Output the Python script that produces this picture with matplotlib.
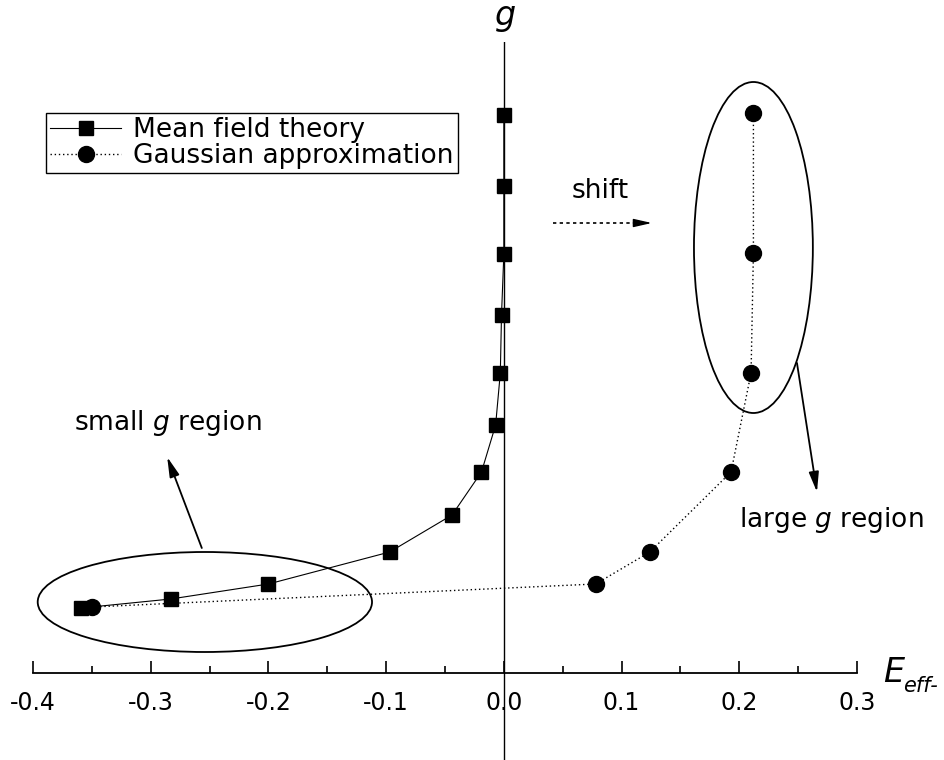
import numpy as np
import matplotlib
matplotlib.use("Agg")
import matplotlib.pyplot as plt
from matplotlib.patches import Ellipse
from matplotlib.ticker import MultipleLocator

plt.rcParams['font.family'] = ['DejaVu Sans']
plt.rcParams['axes.unicode_minus'] = False

# mean field theory (E_eff-, g)  -- g in arbitrary units, no scale shown
mft_x = [0.0, 0.0, 0.0, -0.002, -0.003, -0.007, -0.019, -0.044, -0.097, -0.200, -0.283, -0.359]
mft_g = [5.58, 4.87, 4.19, 3.58, 3.00, 2.48, 2.01, 1.58, 1.21, 0.89, 0.74, 0.65]

# gaussian approximation
ga_x = [-0.350, 0.078, 0.124, 0.193, 0.210, 0.212, 0.212]
ga_g = [0.66, 0.89, 1.21, 2.01, 3.00, 4.20, 5.60]

xticks = [-0.4, -0.3, -0.2, -0.1, 0.0, 0.1, 0.2, 0.3]
xticklabels = ['-0.4', '-0.3', '-0.2', '-0.1', '0.0', '0.1', '0.2', '0.3']

fig = plt.figure(figsize=(9.45, 7.6), dpi=100)
ax = fig.add_axes([33/945, 0, 824/945, 718/760])
ax.set_xlim(-0.4, 0.3)
ax.set_ylim(-0.87, 6.31)

for s in ['top', 'right', 'left']:
    ax.spines[s].set_visible(False)
ax.spines['bottom'].set_position(('data', 0))
ax.spines['bottom'].set_linewidth(1.3)
ax.set_yticks([])
ax.set_xticks(xticks)
ax.set_xticklabels(xticklabels)
ax.xaxis.set_minor_locator(MultipleLocator(0.05))
ax.tick_params(axis='x', which='major', direction='in', length=9, width=1.2, pad=13, labelsize=17)
ax.tick_params(axis='x', which='minor', direction='in', length=5, width=1.2)

# vertical g axis
ax.axvline(0, color='k', lw=1.0, zorder=3)

ax.plot(mft_x, mft_g, '-s', color='k', lw=0.8, ms=10, zorder=5, label='Mean field theory')
ax.plot(ga_x, ga_g, 'o', color='k', ls=(0, (1, 2)), lw=1.0, ms=11.5, zorder=5,
        label='Gaussian approximation')

# regions
ax.add_patch(Ellipse((0.212, 4.255), 0.101, 3.31, fill=False, ec='k', lw=1.3))
ax.add_patch(Ellipse((-0.254, 0.71), 0.284, 1.0, fill=False, ec='k', lw=1.3))

arr = dict(arrowstyle='-|>,head_length=1.2,head_width=0.3', color='k', lw=1.3,
           shrinkA=0, shrinkB=0)
ax.annotate('', xy=(-0.286, 2.16), xytext=(-0.2566, 1.25), arrowprops=arr)
ax.annotate('', xy=(0.266, 1.81), xytext=(0.249, 3.10), arrowprops=arr)
# dotted "shift" arrow: dashed shaft + solid head
ax.plot([0.0416, 0.113], [4.50, 4.50], color='k', lw=1.2, ls=(0, (2, 2)))
ax.annotate('', xy=(0.1257, 4.50), xytext=(0.110, 4.50),
            arrowprops=dict(arrowstyle='-|>,head_length=1.1,head_width=0.25', color='k',
                            lw=1.0, shrinkA=0, shrinkB=0))

ax.text(-0.2855, 2.50, 'small $g$ region', ha='center', va='center', fontsize=19)
ax.text(0.278, 1.53, 'large $g$ region', ha='center', va='center', fontsize=19)
ax.text(0.0816, 4.82, 'shift', ha='center', va='center', fontsize=19)

fig.text(505/945, 1 - 18/760, '$g$', ha='center', va='center', fontsize=24)
fig.text(883/945, 1 - 682/760, 'E', style='italic', ha='left', va='baseline', fontsize=24)
fig.text(903/945, 1 - 692/760, 'eff-', style='italic', ha='left', va='baseline', fontsize=15)

leg = ax.legend(loc='upper left', bbox_to_anchor=(46/945, 1 - 113/760),
                bbox_transform=fig.transFigure, fontsize=19, frameon=True,
                fancybox=False, framealpha=1, edgecolor='k', borderaxespad=0,
                borderpad=0.15, labelspacing=0.0, handlelength=2.7, handletextpad=0.45)
leg.get_frame().set_linewidth(1.0)

fig.savefig('out.png', dpi=100)
